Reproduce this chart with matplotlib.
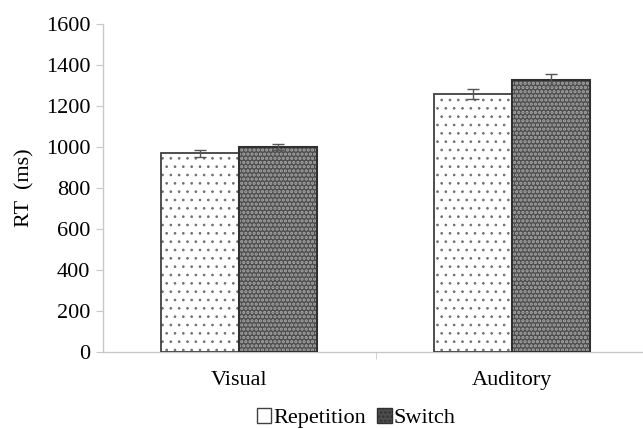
import numpy as np
import matplotlib.pyplot as plt
from matplotlib.patches import Patch

plt.rcParams['font.family'] = ['Liberation Serif', 'DejaVu Serif']

# data
categories = ['Visual', 'Auditory']
repetition = [968, 1258]
switch = [1000, 1328]
rep_err = [19, 26]
sw_err = [16, 25]

barWidth = 0.286
axis_grey = '#c8c8c8'
fontsize_selected = 16

fig = plt.figure(figsize=(6.43, 4.29), dpi=100)
ax = fig.add_axes([0.160, 0.1795, 0.849, 0.765])

x = np.arange(len(categories))
br1 = x - barWidth / 2
br2 = x + barWidth / 2

# Repetition: white with sparse small dots
plt.rcParams['hatch.linewidth'] = 0.7
ax.bar(br1, repetition, width=barWidth, color='white', edgecolor='#707070',
       hatch='..', linewidth=0, zorder=2)
ax.bar(br1, repetition, width=barWidth, fill=False, edgecolor='#404040',
       linewidth=1.3, zorder=3)

# Switch: dark grey with dense light dots
plt.rcParams['hatch.linewidth'] = 1.6
ax.bar(br2, switch, width=barWidth, color='#4e4e4e', edgecolor='#aaaaaa',
       hatch='....', linewidth=0, zorder=2)
ax.bar(br2, switch, width=barWidth, fill=False, edgecolor='#303030',
       linewidth=1.5, zorder=3)

ax.errorbar(br1, repetition, yerr=rep_err, fmt='none', ecolor='#555555',
            elinewidth=1, capsize=4, capthick=1, zorder=4)
ax.errorbar(br2, switch, yerr=sw_err, fmt='none', ecolor='#555555',
            elinewidth=1, capsize=4, capthick=1, zorder=4)

ax.set_xlim(-0.5, 1.5)
ax.set_ylim(0, 1600)
ax.set_yticks(np.arange(0, 1601, 200))
ax.set_xticks(x)
ax.set_xticklabels(categories, fontsize=fontsize_selected)
ax.set_xticks([0.5], minor=True)
ax.tick_params(axis='x', which='major', length=0, pad=14)
ax.tick_params(axis='x', which='minor', length=5, color=axis_grey, direction='out')
ax.tick_params(axis='y', length=5, color=axis_grey, labelsize=fontsize_selected, pad=4)

for pos in ['right', 'top']:
    ax.spines[pos].set_visible(False)
for pos in ['left', 'bottom']:
    ax.spines[pos].set_color(axis_grey)
    ax.spines[pos].set_linewidth(1)

ax.set_ylabel('RT  (ms)', fontsize=fontsize_selected, labelpad=8)

plt.rcParams['hatch.linewidth'] = 1.2
handles = [Patch(facecolor='white', edgecolor='#404040', label='Repetition'),
           Patch(facecolor='#4e4e4e', edgecolor='#303030', hatch='....',
                 label='Switch')]
fig.legend(handles=handles, loc='center', bbox_to_anchor=(0.554, 0.026),
           ncol=2, frameon=False, fontsize=fontsize_selected, handlelength=0.65,
           handleheight=0.65, handletextpad=0.1, columnspacing=0.5)

fig.savefig('out.png', dpi=100)
